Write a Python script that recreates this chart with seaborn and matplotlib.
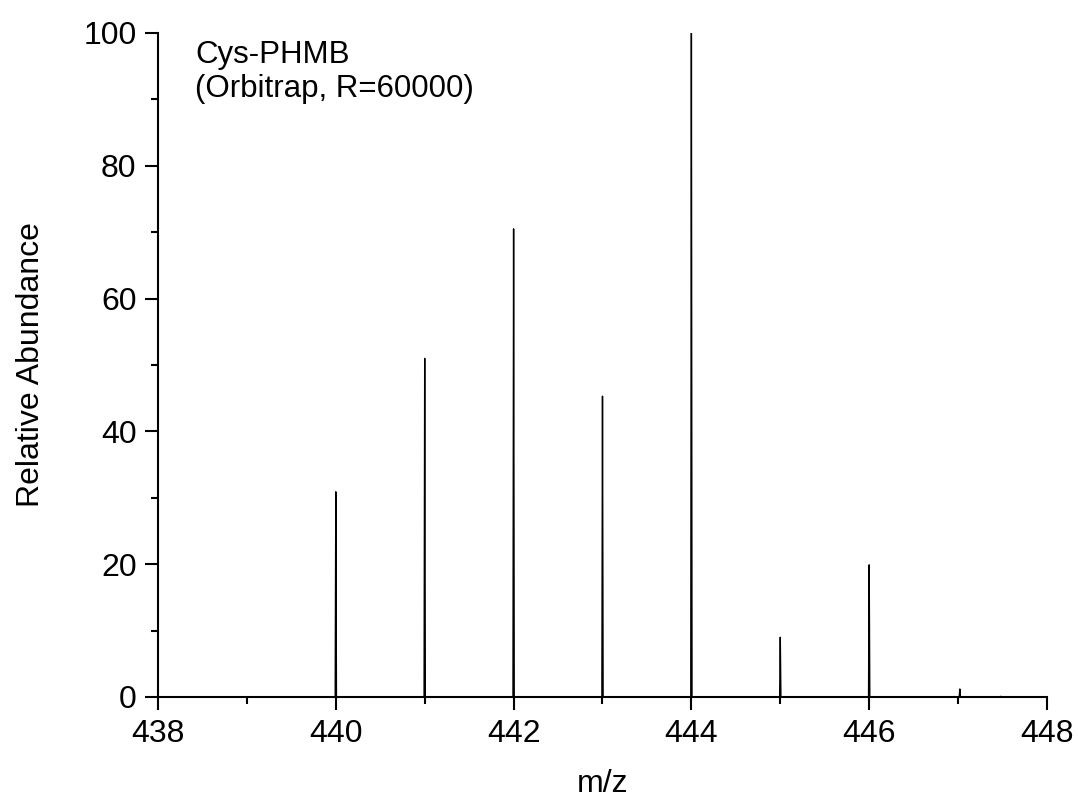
import numpy as np
import pandas as pd
import matplotlib
matplotlib.use("Agg")
import matplotlib.pyplot as plt
import seaborn as sns
from matplotlib.ticker import MultipleLocator

# Peak centroids
peak_mz = [440.00, 441.00, 442.00, 443.00, 444.00, 445.00, 446.00, 447.02, 447.48]
peak_abund = [30.9, 51.0, 70.5, 45.3, 100.0, 9.0, 19.9, 1.2, 0.1]
half_width = 0.007

# Build a profile trace: baseline - apex - baseline for each peak
mz_trace = [438.0]
ab_trace = [0.0]
for c, h in zip(peak_mz, peak_abund):
    mz_trace += [c - half_width, c, c + half_width]
    ab_trace += [0.0, h, 0.0]
mz_trace.append(448.0)
ab_trace.append(0.0)
spectrum = pd.DataFrame({"mz": mz_trace, "abundance": ab_trace})

sns.set_style("ticks")
plt.rcParams["font.family"] = ["Liberation Sans", "DejaVu Sans"]
plt.rcParams["text.color"] = "black"
plt.rcParams["axes.labelcolor"] = "black"
plt.rcParams["xtick.color"] = "black"
plt.rcParams["ytick.color"] = "black"

fig = plt.figure(figsize=(10.78, 8.0), dpi=100)
ax = fig.add_axes([0.1466, 0.12875, 0.8246, 0.83])

sns.lineplot(data=spectrum, x="mz", y="abundance", sort=False, estimator=None,
             color="black", linewidth=1.0, ax=ax)

ax.set_xlim(438, 448)
ax.set_ylim(0, 100)
ax.xaxis.set_major_locator(MultipleLocator(2))
ax.xaxis.set_minor_locator(MultipleLocator(1))
ax.yaxis.set_major_locator(MultipleLocator(20))
ax.yaxis.set_minor_locator(MultipleLocator(10))

sns.despine(ax=ax)
for side in ["left", "bottom"]:
    ax.spines[side].set_linewidth(1.5)
    ax.spines[side].set_color("black")

ax.tick_params(which="major", length=9.5, width=1.5, labelsize=23, pad=6)
ax.tick_params(which="minor", length=5, width=1.5)

ax.set_xlabel("m/z", fontsize=23, labelpad=15)
ax.set_ylabel("Relative Abundance", fontsize=23, labelpad=27)

ax.text(0.042, 0.99, "Cys-PHMB\n(Orbitrap, R=60000)", transform=ax.transAxes,
        ha="left", va="top", fontsize=22.5, linespacing=1.2)

fig.savefig("out.png", dpi=100)
